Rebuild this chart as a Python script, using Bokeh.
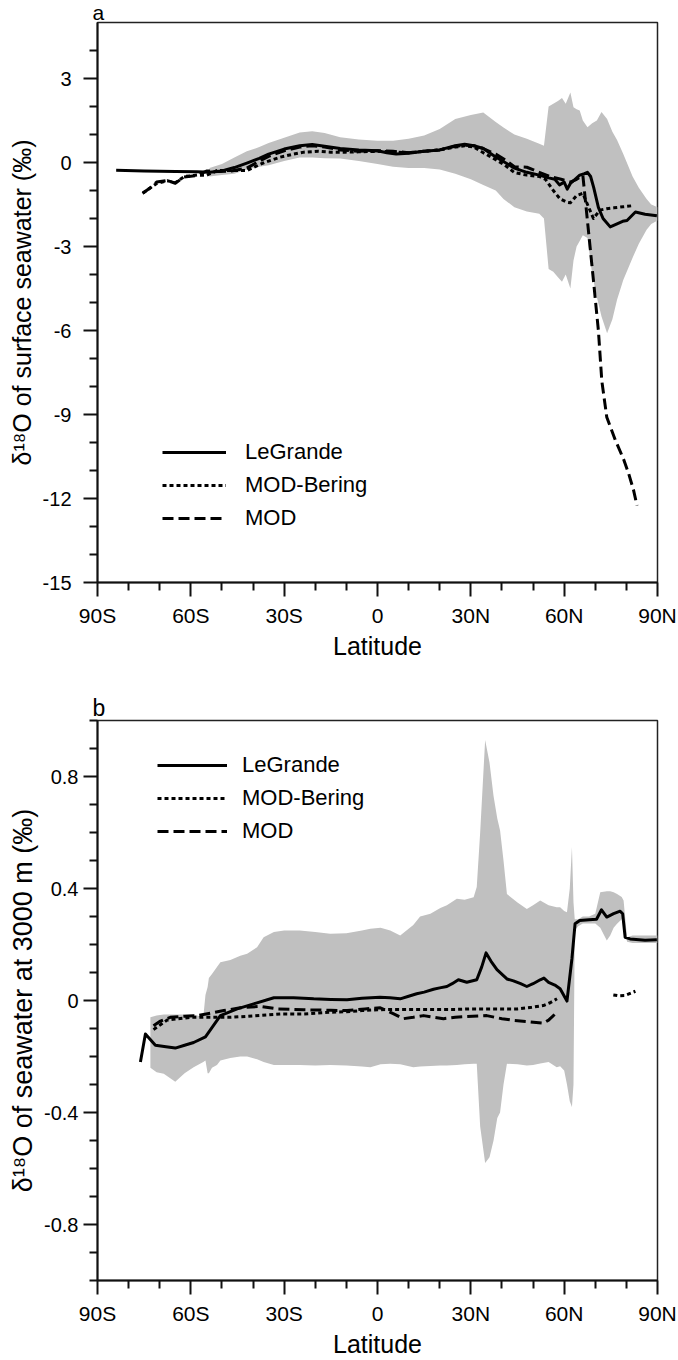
import math
from bokeh.plotting import figure
from bokeh.layouts import column
from bokeh.models import (FixedTicker, CustomJSTickFormatter, Legend, LegendItem, Title)
from bokeh.embed import file_html
from bokeh.resources import INLINE

NaN = float("nan")
FONT = "Liberation Sans"
GRAY = "#c0c0c0"

# ---------------- Panel a: surface seawater ----------------
band_a_lat = [-54, -50, -46, -42, -38, -35, -30, -25, -21, -17, -12, -6, 0, 5, 10, 15, 20, 25, 30, 34,
              38, 40.5, 44, 48, 52, 53.5, 55, 56.5, 58, 59.3, 60.5, 62, 63, 64, 65, 66, 67.5, 69, 70.5,
              72, 73.8, 75.5, 77, 79, 82, 84, 86.5, 88, 90]
band_a_upper = [-0.2, -0.05, 0.18, 0.4, 0.55, 0.7, 0.88, 1.07, 1.12, 1.05, 0.9, 0.82, 0.78, 0.78, 0.85,
                0.96, 1.2, 1.55, 1.7, 1.79, 1.45, 1.25, 1.0, 0.85, 0.67, 0.6, 2.0, 2.1, 2.2, 2.3, 2.1,
                2.5, 1.97, 1.9, 1.86, 1.5, 1.26, 1.4, 1.5, 1.8, 1.55, 1.1, 0.8, 0.3, -0.5, -0.9, -1.3,
                -1.5, -1.6]
band_a_lower = [-0.5, -0.45, -0.4, -0.25, -0.15, -0.1, 0.05, 0.18, 0.18, 0.15, 0.14, 0.05, -0.05, -0.15,
                -0.2, -0.2, -0.25, -0.4, -0.6, -0.8, -1.0, -1.3, -1.6, -1.75, -1.83, -2.0, -3.8, -3.9,
                -4.1, -4.26, -4.0, -4.5, -3.5, -3.0, -2.8, -2.6, -2.7, -4.0, -4.8, -5.5, -6.1, -5.6,
                -4.9, -4.2, -3.4, -2.9, -2.4, -2.2, -2.07]

legrande_a_lat = [-84, -75, -65, -58, -54, -50, -46, -42, -38, -35, -30, -25, -21, -17, -12, -6, 0, 3, 6,
                  10, 15, 20, 25, 28, 31, 34, 38, 41, 44, 48, 52, 55, 57, 58.5, 60, 61, 62, 63.5, 65,
                  66.5, 67.5, 68.5, 69.5, 71, 72.5, 74.8, 77, 78.8, 80.2, 82.9, 86, 89.8]
legrande_a = [-0.28, -0.3, -0.32, -0.33, -0.35, -0.3, -0.18, -0.02, 0.15, 0.3, 0.48, 0.6, 0.64, 0.58,
              0.5, 0.45, 0.42, 0.35, 0.3, 0.33, 0.4, 0.45, 0.6, 0.65, 0.6, 0.5, 0.2, 0.0, -0.2, -0.35,
              -0.45, -0.55, -0.6, -0.8, -0.7, -0.95, -0.75, -0.6, -0.45, -0.4, -0.35, -0.5, -0.9, -1.6,
              -2.0, -2.3, -2.19, -2.1, -2.07, -1.77, -1.85, -1.9]

modb_a_lat = [-75.5, -71, -67.6, -65, -62, -58, -55, -51.6, -47.4, -42, -36.4, -31.3, -27, -23.6, -19,
              -15.2, -10.4, -6, 0, 5, 10, 15, 20, 25, 28, 31, 34, 38, 41, 44, 48, 52, 54, 56.5, 58.7,
              60.9, 62, 64, 66, 67.5, 69.4, 71.5, 73.7, 76, 79, 82.3]
modb_a = [-1.1, -0.75, -0.65, -0.72, -0.5, -0.45, -0.46, -0.29, -0.29, -0.29, 0.0, 0.19, 0.3, 0.37,
          0.4, 0.37, 0.37, 0.38, 0.4, 0.38, 0.35, 0.4, 0.45, 0.55, 0.6, 0.55, 0.35, 0.1, -0.1, -0.36,
          -0.45, -0.5, -0.6, -1.0, -1.3, -1.42, -1.44, -1.18, -1.1, -1.5, -2.0, -1.7, -1.65, -1.62,
          -1.58, -1.54]

mod_a_lat = [-75.5, -73, -71, -67.6, -65, -62.2, -58, -54.8, -51, -47, -42, -38, -35, -30, -25, -21,
             -17, -12, -6, 0, 5, 10, 15, 20, 25, 28, 31, 34, 38, 41, 44, 48, 52, 56, 59, 62, 64, 66,
             67.8, 69.4, 71, 72.1, 73.7, 76.4, 79.1, 80.7, 82.3, 83.4]
mod_a = [-1.1, -0.9, -0.7, -0.64, -0.74, -0.52, -0.46, -0.3, -0.32, -0.3, -0.2, 0.05, 0.22, 0.42, 0.55,
         0.6, 0.55, 0.45, 0.4, 0.42, 0.4, 0.35, 0.4, 0.45, 0.58, 0.62, 0.6, 0.5, 0.3, 0.1, -0.15, -0.17,
         -0.35, -0.52, -0.6, -0.7, -0.6, -0.45, -2.43, -4.2, -6.0, -7.8, -9.1, -9.9, -10.6, -11.1,
         -11.7, -12.25]

# ---------------- Panel b: seawater at 3000 m ----------------
band_b_lat = [-73, -71, -68.7, -65, -62, -59.1, -56, -55.3, -54.6, -54.2, -53.2, -51.6, -50.5, -47.3,
              -44.1, -41.9, -38.7, -36.6, -33.3, -30, -25, -20, -15.2, -10, -5, -2.3, 1, 4.1, 7.3,
              11.5, 13.7, 17, 20.2, 22.3, 25.5, 28, 30.9, 31.9, 33, 34.6, 36, 37.3, 38.5, 39.4, 40.5,
              41.6, 45, 48, 50, 52.3, 55, 57.6, 58.7, 60, 60.9, 61.8, 62.5, 63.0, 63.4, 64.5, 66, 68,
              70, 71.6, 73.7, 74.8, 75.9, 77, 78.5, 79.1, 80.2, 82, 86, 90]
band_b_upper = [-0.06, -0.054, -0.05, -0.05, -0.05, -0.05, -0.06, 0.02, 0.048, 0.08, 0.095, 0.12, 0.137,
                0.145, 0.16, 0.167, 0.19, 0.226, 0.245, 0.25, 0.25, 0.245, 0.238, 0.24, 0.25, 0.256,
                0.26, 0.25, 0.232, 0.27, 0.3, 0.31, 0.33, 0.34, 0.363, 0.36, 0.369, 0.405, 0.6, 0.93,
                0.85, 0.73, 0.65, 0.607, 0.5, 0.38, 0.35, 0.327, 0.34, 0.357, 0.34, 0.333, 0.333, 0.32,
                0.315, 0.4, 0.548, 0.35, 0.29, 0.29, 0.3, 0.3, 0.31, 0.387, 0.39, 0.39, 0.387, 0.38,
                0.37, 0.357, 0.226, 0.232, 0.232, 0.232]
band_b_lower = [-0.24, -0.256, -0.262, -0.29, -0.26, -0.238, -0.22, -0.214, -0.26, -0.26, -0.24, -0.23,
                -0.214, -0.205, -0.2, -0.2, -0.21, -0.22, -0.23, -0.23, -0.23, -0.232, -0.23, -0.232,
                -0.236, -0.238, -0.228, -0.226, -0.228, -0.238, -0.236, -0.234, -0.232, -0.232, -0.23,
                -0.228, -0.226, -0.226, -0.45, -0.58, -0.56, -0.5, -0.42, -0.4, -0.3, -0.226, -0.228,
                -0.232, -0.23, -0.225, -0.22, -0.238, -0.235, -0.25, -0.3, -0.36, -0.38, -0.3, 0.25,
                0.265, 0.275, 0.275, 0.275, 0.26, 0.214, 0.232, 0.26, 0.274, 0.29, 0.3, 0.21, 0.205,
                0.205, 0.205]

legrande_b_lat = [-76.2, -74.6, -71.4, -68, -65, -62, -59.1, -55.3, -50.5, -45.1, -39.8, -33.3, -27,
                  -20.5, -15, -9.8, -5, 0.8, 4, 7.3, 10, 12.6, 15, 18, 20, 22.3, 24, 26, 28.7, 31.9,
                  33.5, 34.9, 36.5, 38.4, 41.6, 43.7, 46, 48, 50, 52.3, 53.5, 55, 57, 58.7, 60.9, 62.5,
                  63.5, 65, 68, 70.4, 72, 73.7, 75.9, 78, 78.8, 79.6, 81.2, 86, 89.8]
legrande_b = [-0.22, -0.12, -0.16, -0.165, -0.17, -0.16, -0.15, -0.13, -0.054, -0.03, -0.012, 0.01,
              0.01, 0.006, 0.004, 0.003, 0.008, 0.012, 0.01, 0.006, 0.015, 0.024, 0.03, 0.04, 0.045,
              0.05, 0.06, 0.074, 0.065, 0.074, 0.12, 0.17, 0.14, 0.11, 0.077, 0.07, 0.06, 0.05, 0.06,
              0.074, 0.08, 0.065, 0.055, 0.042, -0.002, 0.15, 0.274, 0.286, 0.288, 0.29, 0.324, 0.298,
              0.31, 0.319, 0.31, 0.226, 0.22, 0.215, 0.217]

modb_b_lat = [-72, -67.6, -64, -60, -56, -52, -47, -40, -31, -23.7, -15, -10, -5, 0, 5, 10, 15, 20, 25,
              30, 35, 40, 45, 49.6, 53.3, 55.5, 57.7, NaN, 75.8, 77.5, 79.6, 82.9]
modb_b = [-0.104, -0.07, -0.065, -0.06, -0.06, -0.06, -0.06, -0.055, -0.048, -0.048, -0.042, -0.04,
          -0.036, -0.033, -0.032, -0.032, -0.032, -0.032, -0.032, -0.03, -0.03, -0.03, -0.03, -0.024,
          -0.018, -0.008, 0.006, NaN, 0.02, 0.017, 0.018, 0.033]

mod_b_lat = [-72, -70, -66.6, -62, -58, -53.5, -49.4, -44.1, -37.6, -32.3, -23.7, -15, -9.8, -4, 0.9,
             5.2, 8.3, 11.5, 14.8, 18, 21.2, 25, 28.7, 35.1, 40, 43.7, 48, 53.3, 55, 57.1]
mod_b = [-0.09, -0.075, -0.06, -0.056, -0.054, -0.045, -0.036, -0.026, -0.021, -0.03, -0.033, -0.035,
         -0.036, -0.03, -0.026, -0.048, -0.065, -0.06, -0.054, -0.06, -0.065, -0.06, -0.057, -0.054,
         -0.065, -0.071, -0.075, -0.081, -0.07, -0.048]

x_ticks = [-90, -60, -30, 0, 30, 60, 90]
x_minor = [-80, -70, -50, -40, -20, -10, 10, 20, 40, 50, 70, 80]
ya_ticks = [-15, -12, -9, -6, -3, 0, 3]
ya_minor = [-14, -13, -11, -10, -8, -7, -5, -4, -2, -1, 1, 2, 4]
yb_ticks = [-0.8, -0.4, 0, 0.4, 0.8]
yb_minor = [-1.0, -0.9, -0.7, -0.6, -0.5, -0.3, -0.2, -0.1, 0.1, 0.2, 0.3, 0.5, 0.6, 0.7, 0.9, 1.0]

series_names = ["LeGrande", "MOD-Bering", "MOD"]

x_fmt = CustomJSTickFormatter(code="""
if (Math.abs(tick) < 1e-9) { return "0"; }
return Math.abs(tick).toFixed(0) + (tick < 0 ? "S" : "N");
""")
ya_fmt = CustomJSTickFormatter(code="return tick.toFixed(0);")
yb_fmt = CustomJSTickFormatter(code="""
if (Math.abs(tick) < 1e-9) { return "0"; }
return tick.toFixed(1);
""")


def make_panel(letter, letter_size, letter_standoff, ylabel, ylabel_size, yrange, yticks, yminor, yfmt,
               lat_band, lo, hi, series, legend_xy, glyph_w, lab_standoff,
               height, top_border, bottom_border, ytick_standoff, ylab_standoff):
    title = Title(text=letter, align="left", offset=-5, standoff=letter_standoff,
                  text_font=FONT, text_font_size=letter_size, text_font_style="normal",
                  text_color="black", text_line_height=0.9)
    p = figure(width=678, height=height, x_range=(-90, 90), y_range=yrange,
               output_backend="svg", toolbar_location=None, title=title,
               min_border_left=97, min_border_right=21, min_border_top=top_border,
               min_border_bottom=bottom_border)
    p.title.text_font_size = letter_size
    p.frame_width = 560
    p.frame_height = 560
    p.background_fill_color = "white"
    p.border_fill_color = "white"
    p.outline_line_color = "#222222"
    p.outline_line_width = 1.5
    p.xgrid.visible = False
    p.ygrid.visible = False

    p.varea(x=lat_band, y1=lo, y2=hi, fill_color=GRAY, fill_alpha=1.0)

    dashes = ["solid", "4 3", "11 5"]
    items = []
    for name, (xs, ys), dash in zip(series_names, series, dashes):
        r = p.line(xs, ys, line_color="black", line_width=3, line_dash=dash, line_join="round")
        items.append(LegendItem(label=name, renderers=[r]))

    leg = Legend(items=items, location=legend_xy, orientation="vertical",
                 border_line_color=None, background_fill_alpha=0.0,
                 label_text_font=FONT, label_text_font_size="22px", label_text_color="black",
                 glyph_width=glyph_w, glyph_height=24, label_height=24, spacing=7,
                 padding=0, margin=0, label_standoff=lab_standoff)
    p.add_layout(leg, "center")

    for ax in (p.xaxis[0], p.yaxis[0]):
        ax.axis_line_width = 2
        ax.axis_line_color = "#111111"
        ax.major_tick_line_width = 2
        ax.minor_tick_line_width = 2
        ax.major_tick_line_color = "#111111"
        ax.minor_tick_line_color = "#111111"
        ax.major_tick_in = 0
        ax.minor_tick_in = 0
        ax.major_tick_out = 14
        ax.minor_tick_out = 8
        ax.major_label_text_font = FONT
        ax.major_label_text_color = "black"
        ax.axis_label_text_font = FONT
        ax.axis_label_text_font_style = "normal"
        ax.axis_label_text_color = "black"

    p.xaxis.ticker = FixedTicker(ticks=x_ticks, minor_ticks=x_minor)
    p.xaxis.formatter = x_fmt
    p.xaxis.major_label_text_font_size = "21px"
    p.xaxis.major_label_standoff = 7
    p.xaxis.axis_label = "Latitude"
    p.xaxis.axis_label_text_font_size = "25px"
    p.xaxis.axis_label_standoff = 2

    p.yaxis.ticker = FixedTicker(ticks=yticks, minor_ticks=yminor)
    p.yaxis.formatter = yfmt
    p.yaxis.major_label_text_font_size = "20px"
    p.yaxis.major_label_standoff = ytick_standoff
    p.yaxis.axis_label = ylabel
    p.yaxis.axis_label_text_font_size = ylabel_size
    p.yaxis.axis_label_standoff = ylab_standoff
    return p


pa = make_panel("a", "21px", -3, "δ¹⁸O of surface seawater (‰)", "25px", (-15, 5), ya_ticks, ya_minor,
                ya_fmt, band_a_lat, band_a_lower, band_a_upper,
                [(legrande_a_lat, legrande_a), (modb_a_lat, modb_a), (mod_a_lat, mod_a)],
                (65, 51), 64, 19, 690, 22, 108, 12, 4)
pb = make_panel("b", "23px", -1, "δ¹⁸O of seawater at 3000 m (‰)", "27px", (-1, 1), yb_ticks, yb_minor,
                yb_fmt, band_b_lat, band_b_lower, band_b_upper,
                [(legrande_b_lat, legrande_b), (modb_b_lat, modb_b), (mod_b_lat, mod_b)],
                (60, 436), 70, 15, 670, 30, 80, 5, 3)

layout = column(pa, pb, spacing=0)
open("out.html", "w").write(file_html(layout, INLINE))
